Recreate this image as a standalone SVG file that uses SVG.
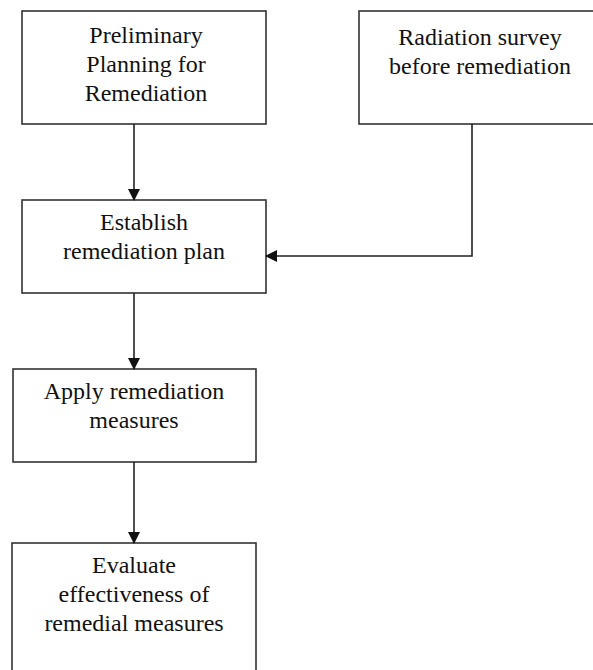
<svg xmlns="http://www.w3.org/2000/svg" width="593" height="670" viewBox="0 0 593 670">
<style>
.box{fill:#fff;stroke:#333;stroke-width:1.6}
.t{font-family:"Liberation Serif","Times New Roman",serif;font-size:24px;fill:#111;text-anchor:middle}
.c{fill:none;stroke:#222;stroke-width:1.6}
</style>
<defs>
<marker id="ah" markerWidth="12" markerHeight="12" refX="11" refY="6" orient="auto" markerUnits="userSpaceOnUse">
<path d="M0,0 L12,6 L0,12 z" fill="#111"/>
</marker>
</defs>
<rect width="593" height="670" fill="#fff"/>
<g id="n1">
<rect class="box" x="22" y="11" width="244" height="113"/>
<text class="t" x="146" y="43">Preliminary</text>
<text class="t" x="146" y="72">Planning for</text>
<text class="t" x="146" y="101">Remediation</text>
</g>
<g id="n2">
<rect class="box" x="359" y="11" width="245" height="113"/>
<text class="t" x="480" y="45">Radiation survey</text>
<text class="t" x="480" y="74">before remediation</text>
</g>
<g id="n3">
<rect class="box" x="22" y="200" width="244" height="93"/>
<text class="t" x="144" y="230">Establish</text>
<text class="t" x="144" y="259">remediation plan</text>
</g>
<g id="n4">
<rect class="box" x="13" y="369" width="243" height="93"/>
<text class="t" x="134" y="399">Apply remediation</text>
<text class="t" x="134" y="428">measures</text>
</g>
<g id="n5">
<rect class="box" x="12" y="543" width="244" height="140"/>
<text class="t" x="134" y="573">Evaluate</text>
<text class="t" x="134" y="602">effectiveness of</text>
<text class="t" x="134" y="631">remedial measures</text>
</g>
<g id="connectors">
<path class="c" d="M134,124 L134,200" marker-end="url(#ah)"/>
<path class="c" d="M472,124 L472,256 L266,256" marker-end="url(#ah)"/>
<path class="c" d="M134,293 L134,369" marker-end="url(#ah)"/>
<path class="c" d="M134,462 L134,543" marker-end="url(#ah)"/>
</g>
</svg>
